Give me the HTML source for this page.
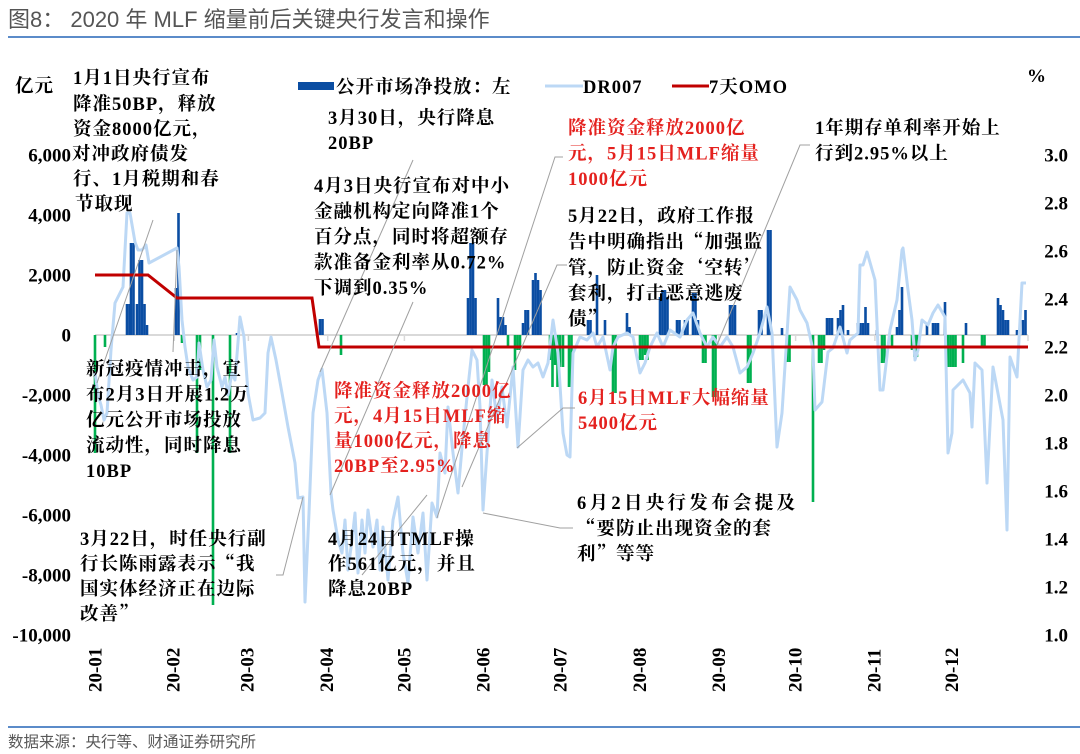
<!DOCTYPE html>
<html><head><meta charset="utf-8">
<style>
html,body{margin:0;padding:0;background:#fff;}
svg{display:block;}
.a{font-family:"Liberation Serif","Noto Serif CJK SC",serif;font-weight:bold;font-size:18.5px;letter-spacing:1px;fill:#000;}
.r{fill:#e4211e;}
.q{font-family:"Noto Serif CJK SC",serif;}
.ax{font-family:"Liberation Serif","Noto Serif CJK SC",serif;font-weight:bold;font-size:19px;fill:#000;}
.t{font-family:"Liberation Sans","Noto Sans CJK SC",sans-serif;font-size:22px;fill:#555;}
.s{font-family:"Liberation Sans","Noto Sans CJK SC",sans-serif;font-size:15.5px;fill:#595959;}
</style></head>
<body>
<svg width="1080" height="754" viewBox="0 0 1080 754" xmlns="http://www.w3.org/2000/svg">
<rect width="1080" height="754" fill="#fff"/>
<!-- title -->
<text class="t" x="8" y="27">图8： 2020 年 MLF 缩量前后关键央行发言和操作</text>
<line x1="8" y1="37" x2="1080" y2="37" stroke="#5b8bc9" stroke-width="2"/>
<line x1="8" y1="727" x2="1080" y2="727" stroke="#5b8bc9" stroke-width="2"/>
<text class="s" x="8" y="747">数据来源：央行等、财通证券研究所</text>

<!-- zero line & ticks -->
<line x1="95" y1="335" x2="1028" y2="335" stroke="#d9d9d9" stroke-width="2"/>
<g stroke="#d9d9d9" stroke-width="1.5">
<line x1="95" y1="335" x2="95" y2="341"/><line x1="174.3" y1="335" x2="174.3" y2="341"/><line x1="248.4" y1="335" x2="248.4" y2="341"/><line x1="327.7" y1="335" x2="327.7" y2="341"/><line x1="404.4" y1="335" x2="404.4" y2="341"/><line x1="483.7" y1="335" x2="483.7" y2="341"/><line x1="560.4" y1="335" x2="560.4" y2="341"/><line x1="639.6" y1="335" x2="639.6" y2="341"/><line x1="718.9" y1="335" x2="718.9" y2="341"/><line x1="795.6" y1="335" x2="795.6" y2="341"/><line x1="874.9" y1="335" x2="874.9" y2="341"/><line x1="951.6" y1="335" x2="951.6" y2="341"/><line x1="1028" y1="335" x2="1028" y2="341"/>
</g>

<!-- bars -->
<g id="bars"></g>

<!-- DR007 -->
<polyline fill="none" stroke="#bcd8f5" stroke-width="3" stroke-linejoin="round" points="95,372 98,395 101,405 104,420 107,413 111,350 115,303 119,295 123,287 127,213 130,213 135,242 138,250 142,250 146,245 149,263 177,248 179,267 182,320 185,347 188,367 193,380 197,377 199,343 203,370 207,387 211,380 214,340 217,367 222,387 225,377 228,395 232,373 235,380 240,317 244,337 248,393 253,420 260,418 265,413 268,353 271,337 276,360 282,393 288,427 295,463 298,498 303,497 305,602 309,513 313,413 318,380 322,369 327,413 331,493 333,510 338,540 342,553 345,520 348,570 352,540 355,513 358,573 362,520 365,553 368,510 373,547 377,520 380,570 383,527 388,580 393,520 398,497 403,553 408,583 413,517 418,553 423,513 427,580 432,503 437,517 440,453 445,473 448,407 453,453 458,493 463,437 468,387 472,350 477,360 480,407 483,510 487,453 492,380 497,420 502,387 507,427 513,367 518,447 523,370 528,360 533,367 538,363 543,377 548,363 553,320 558,353 563,433 567,455 570,457 573,353 580,337 587,340 593,333 597,347 603,337 610,370 613,347 618,337 627,333 633,337 640,373 645,363 650,347 657,333 663,347 670,330 680,337 687,320 693,313 700,333 707,347 713,337 720,347 727,337 733,347 740,373 747,367 753,353 760,333 767,307 772,333 777,447 782,413 790,287 797,300 800,310 807,323 813,350 815,410 822,402 828,352 833,348 840,327 847,353 850,340 858,333 860,265 863,265 867,252 875,280 880,390 883,390 890,330 897,300 902,250 903,248 908,290 912,320 915,360 918,350 922,320 928,325 933,313 938,305 945,317 948,453 952,433 953,390 963,380 970,393 972,427 975,363 982,370 987,483 993,367 1003,420 1007,530 1010,357 1017,377 1022,283 1026,283"/>

<!-- 7天OMO -->
<polyline fill="none" stroke="#c00000" stroke-width="3" points="95,275 148,275 177,298 312,298 319,347 1028,347"/>

<!-- connectors -->
<g fill="none" stroke="#a0a0a0" stroke-width="1">
<polyline points="153,220 97,383"/>
<polyline points="177,250 173,352"/>
<polyline points="413,160 320,372"/>
<polyline points="413,302 330,495"/>
<polyline points="563,157 555,157 437,518"/>
<polyline points="810,145 800,145 717,345"/>
<polyline points="567,265 557,265 462,487"/>
<polyline points="427,495 362,575"/>
<polyline points="276,575 283,575 303,497"/>
<polyline points="575,408 563,408 517,448"/>
<polyline points="483,513 560,528 573,528"/>
</g>

<!-- legend -->
<rect x="298" y="82" width="36" height="8" fill="#0a4da2"/>
<text class="a" x="336" y="93">公开市场净投放：左</text>
<line x1="545" y1="86" x2="583" y2="86" stroke="#bcd8f5" stroke-width="3"/>
<text class="a" x="583" y="93">DR007</text>
<line x1="672" y1="86" x2="709" y2="86" stroke="#c00000" stroke-width="3"/>
<text class="a" x="709" y="93">7天OMO</text>

<!-- axis titles -->
<text class="a" x="15" y="92">亿元</text>
<text class="ax" x="1027" y="82">%</text>

<!-- left axis -->
<g class="ax" text-anchor="end">
<text x="71" y="161.5">6,000</text>
<text x="71" y="221.5">4,000</text>
<text x="71" y="281.5">2,000</text>
<text x="71" y="341.5">0</text>
<text x="71" y="401.5">-2,000</text>
<text x="71" y="461.5">-4,000</text>
<text x="71" y="521.5">-6,000</text>
<text x="71" y="581.5">-8,000</text>
<text x="71" y="641.5">-10,000</text>
</g>
<!-- right axis -->
<g class="ax" text-anchor="end">
<text x="1068" y="161.5">3.0</text>
<text x="1068" y="209.5">2.8</text>
<text x="1068" y="257.5">2.6</text>
<text x="1068" y="305.5">2.4</text>
<text x="1068" y="353.5">2.2</text>
<text x="1068" y="401.5">2.0</text>
<text x="1068" y="449.5">1.8</text>
<text x="1068" y="497.5">1.6</text>
<text x="1068" y="545.5">1.4</text>
<text x="1068" y="593.5">1.2</text>
<text x="1068" y="641.5">1.0</text>
</g>
<!-- x labels -->
<g class="ax">
<text transform="translate(101.5,692) rotate(-90)">20-01</text>
<text transform="translate(179.5,692) rotate(-90)">20-02</text>
<text transform="translate(253.5,692) rotate(-90)">20-03</text>
<text transform="translate(333,692) rotate(-90)">20-04</text>
<text transform="translate(410.5,692) rotate(-90)">20-05</text>
<text transform="translate(489.5,692) rotate(-90)">20-06</text>
<text transform="translate(566.5,692) rotate(-90)">20-07</text>
<text transform="translate(646,692) rotate(-90)">20-08</text>
<text transform="translate(725,692) rotate(-90)">20-09</text>
<text transform="translate(801.5,692) rotate(-90)">20-10</text>
<text transform="translate(880.5,692) rotate(-90)">20-11</text>
<text transform="translate(958,692) rotate(-90)">20-12</text>
</g>

<!-- annotations -->
<text class="a" x="73" y="84">
<tspan x="73" y="84">1月1日央行宣布</tspan>
<tspan x="73" y="110">降准50BP，释放</tspan>
<tspan x="73" y="135">资金8000亿元，</tspan>
<tspan x="72" y="160">对冲政府债发</tspan>
<tspan x="73" y="185">行、1月税期和春</tspan>
<tspan x="75" y="210">节取现</tspan>
</text>

<text class="a">
<tspan x="328" y="124">3月30日，央行降息</tspan>
<tspan x="328" y="149">20BP</tspan>
</text>

<text class="a">
<tspan x="314" y="192">4月3日央行宣布对中小</tspan>
<tspan x="314" y="217.5">金融机构定向降准1个</tspan>
<tspan x="314" y="243">百分点，同时将超额存</tspan>
<tspan x="314" y="268.5">款准备金利率从0.72%</tspan>
<tspan x="314" y="294">下调到0.35%</tspan>
</text>

<text class="a r">
<tspan x="568" y="134">降准资金释放2000亿</tspan>
<tspan x="568" y="159.5">元，5月15日MLF缩量</tspan>
<tspan x="568" y="185">1000亿元</tspan>
</text>

<text class="a">
<tspan x="815" y="134">1年期存单利率开始上</tspan>
<tspan x="815" y="159.5">行到2.95%以上</tspan>
</text>

<text class="a">
<tspan x="568" y="222">5月22日，政府工作报</tspan>
<tspan x="568" y="248">告中明确指出<tspan class="q">“</tspan>加强监</tspan>
<tspan x="568" y="274">管，防止资金<tspan class="q">‘</tspan>空转<tspan class="q">’</tspan></tspan>
<tspan x="568" y="299.5">套利，打击恶意逃废</tspan>
<tspan x="568" y="325">债<tspan class="q">”</tspan></tspan>
</text>

<text class="a">
<tspan x="86" y="375">新冠疫情冲击，宣</tspan>
<tspan x="86" y="400.5">布2月3日开展1.2万</tspan>
<tspan x="86" y="426">亿元公开市场投放</tspan>
<tspan x="86" y="451.5">流动性，同时降息</tspan>
<tspan x="86" y="477">10BP</tspan>
</text>

<text class="a r">
<tspan x="334" y="397">降准资金释放2000亿</tspan>
<tspan x="334" y="422">元，4月15日MLF缩</tspan>
<tspan x="334" y="447">量1000亿元，降息</tspan>
<tspan x="334" y="472">20BP至2.95%</tspan>
</text>

<text class="a r">
<tspan x="578" y="404">6月15日MLF大幅缩量</tspan>
<tspan x="578" y="429">5400亿元</tspan>
</text>

<text class="a">
<tspan x="577" y="509" style="letter-spacing:3.3px">6月2日央行发布会提及</tspan>
<tspan x="577" y="534.5"><tspan class="q">“</tspan>要防止出现资金的套</tspan>
<tspan x="577" y="560">利<tspan class="q">”</tspan>等等</tspan>
</text>

<text class="a">
<tspan x="80" y="545">3月22日，时任央行副</tspan>
<tspan x="80" y="570">行长陈雨露表示<tspan class="q">“</tspan>我</tspan>
<tspan x="80" y="595">国实体经济正在边际</tspan>
<tspan x="80" y="620">改善<tspan class="q">”</tspan></tspan>
</text>

<text class="a">
<tspan x="328" y="545">4月24日TMLF操</tspan>
<tspan x="328" y="570">作561亿元，并且</tspan>
<tspan x="328" y="595">降息20BP</tspan>
</text>
</svg>
<script>
(function(){
var d=[[95,453],[105,347],[127,304],[129.5,304],[131,243],[133.5,243],[137,304],[139.5,260],[142,260],[144.5,304],[147,325],
[176,288],[178.5,213],[182,343],[197,453],[200,370],[213,605],[230,453],[237,333],
[320,319],[322.5,319],[341,355],
[468,298],[470.5,243],[473,243],[475.5,298],[484,385],[486.5,385],[489,372],
[498,298],[500.5,317],[503,317],[505.5,325],[508,348],[515,370],[517.5,350],[520,350],
[523,323],[525.5,310],[528,310],[533,280],[535.5,273],[538,280],[540.5,290],
[550,360],[552.5,387],[555,365],[557.5,387],[560,367],[563,367],[569,387],[571.5,387],
[588,320],[590.5,320],[597,275],[605,320],[613,393],[615.5,393],[627,313],[629.5,327],
[640,360],[642.5,360],[645,355],[647.5,360],[660,297],[662.5,290],[665,290],[667.5,297],
[677,320],[679.5,320],[685,320],[687.5,320],[693,293],[695.5,293],[698,320],
[703,363],[705.5,363],[713,397],[715.5,397],[730,305],[732.5,305],[735,305],
[748,383],[750.5,383],[759,310],[761.5,310],[768,230],[770.5,230],[782,328],
[787,362],[789.5,362],[813,502],[819,363],[821.5,363],[824,350],
[827,318],[829.5,318],[832,318],[838,318],[840.5,310],[843,305],[848,330],
[858,323],[860.5,323],[863,323],[865.5,307],[868,323],[877,330],
[882,363],[884.5,363],[892,348],[897,327],[899.5,310],[902,287],
[912,350],[914.5,357],[917,357],[927,323],[933,323],[935.5,323],[938,323],[945,302],
[948,367],[950.5,367],[953,367],[955.5,367],[963,363],[966,323],[982,347],[984.5,347],
[998,298],[1000.5,305],[1003,310],[1005.5,320],[1008,320],[1017,330],[1023,320],[1025.5,310]];
var g=document.getElementById('bars'),ns='http://www.w3.org/2000/svg';
d.forEach(function(b){var r=document.createElementNS(ns,'rect');var x=b[0],y=b[1];
r.setAttribute('x',x-1.3);r.setAttribute('width',2.6);
if(y<335){r.setAttribute('y',y);r.setAttribute('height',335-y);r.setAttribute('fill','#0a4da2');}
else{r.setAttribute('y',335);r.setAttribute('height',y-335);r.setAttribute('fill','#00b050');}
g.appendChild(r);});
})();
</script>
</body></html>
